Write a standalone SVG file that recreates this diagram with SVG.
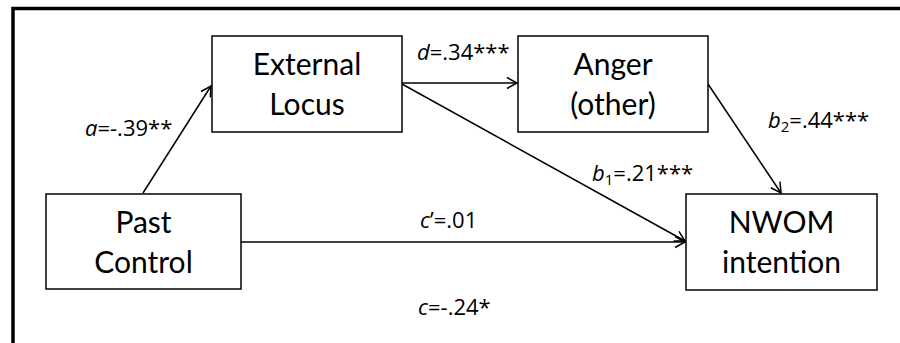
<svg xmlns="http://www.w3.org/2000/svg" width="900" height="343" viewBox="0 0 900 343">
<style>
.box{fill:#fff;stroke:#000;stroke-width:1.5}
.node{font-family:Lato,"Open Sans","Liberation Sans",sans-serif;font-size:30px;fill:#000;text-anchor:middle}
.lab{font-family:"Open Sans",Lato,"Liberation Sans",sans-serif;font-size:22px;fill:#000}
.it{font-style:italic}
.sub{font-size:15px}
.conn{stroke:#000;stroke-width:1.5;fill:none;marker-end:url(#arr)}
</style>
<defs>
<marker id="arr" markerUnits="userSpaceOnUse" markerWidth="14" markerHeight="14" refX="11" refY="6" orient="auto" viewBox="0 0 14 12">
<path d="M1,0.5 L11,6 L1,11.5" fill="none" stroke="#000" stroke-width="1.5"/>
</marker>
</defs>
<rect width="900" height="343" fill="#fff"/>
<path d="M13,343 L13,8.5 L900,8.5" fill="none" stroke="#000" stroke-width="3.5"/>
<g id="connectors">
<line class="conn" x1="143" y1="193" x2="211" y2="86"/>
<line class="conn" x1="402" y1="83" x2="517" y2="83"/>
<line class="conn" x1="402" y1="84" x2="685" y2="241"/>
<line class="conn" x1="241" y1="242" x2="685" y2="242"/>
<line class="conn" x1="708" y1="84" x2="781" y2="193"/>
</g>
<g id="external-locus">
<rect class="box" x="212" y="36" width="190" height="96"/>
<text class="node" x="307" y="75">External</text>
<text class="node" x="307" y="115">Locus</text>
</g>
<g id="anger">
<rect class="box" x="518" y="36" width="190" height="96"/>
<text class="node" x="613" y="75">Anger</text>
<text class="node" x="613" y="115">(other)</text>
</g>
<g id="past-control">
<rect class="box" x="46" y="194" width="195" height="95"/>
<text class="node" x="143.5" y="233">Past</text>
<text class="node" x="143.5" y="273">Control</text>
</g>
<g id="nwom">
<rect class="box" x="686" y="194" width="191" height="96"/>
<text class="node" x="781.5" y="233">NWOM</text>
<text class="node" x="781.5" y="273">intention</text>
</g>
<g id="labels">
<text class="lab" x="85" y="136"><tspan class="it">a</tspan>=-.39**</text>
<text class="lab" x="417" y="60"><tspan class="it">d</tspan>=.34***</text>
<text class="lab" x="592" y="181"><tspan class="it">b</tspan><tspan class="sub" dy="4">1</tspan><tspan dy="-4">=.21***</tspan></text>
<text class="lab" x="768" y="128"><tspan class="it">b</tspan><tspan class="sub" dy="4">2</tspan><tspan dy="-4">=.44***</tspan></text>
<text class="lab" x="420" y="228"><tspan class="it">c</tspan>’=.01</text>
<text class="lab" x="418" y="315"><tspan class="it">c</tspan>=-.24*</text>
</g>
</svg>
